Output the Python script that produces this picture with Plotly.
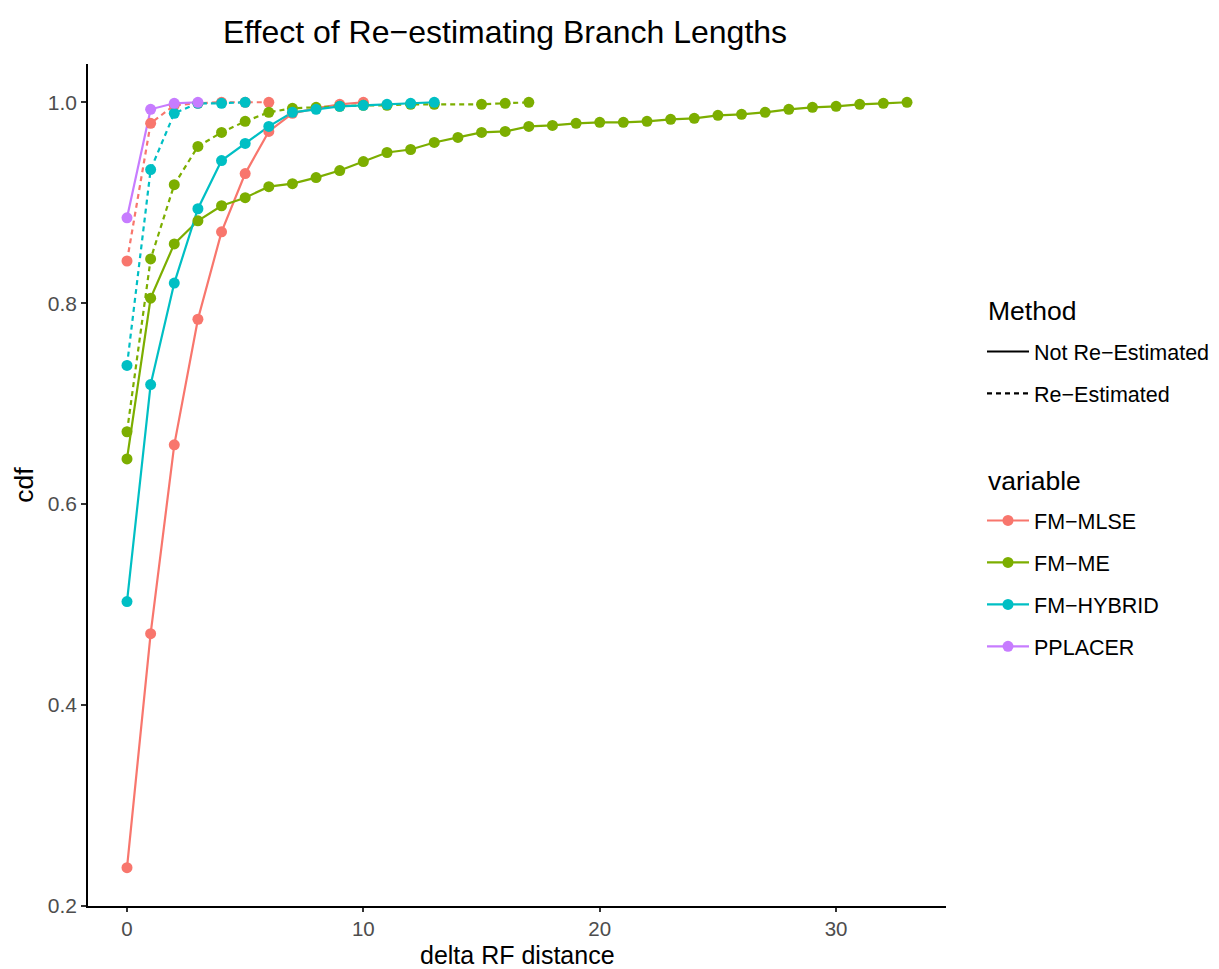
import plotly.graph_objects as go

# ---- data ----
mlse_x = list(range(0, 11))
mlse_y = [0.238, 0.471, 0.659, 0.784, 0.871, 0.929, 0.971, 0.989, 0.994, 0.998, 1.0]
mlse_re_x = list(range(0, 7))
mlse_re_y = [0.842, 0.979, 0.997, 0.999, 1.0, 1.0, 1.0]

me_x = list(range(0, 34))
me_y = [0.645, 0.805, 0.859, 0.882, 0.897, 0.905, 0.916, 0.919, 0.925, 0.932,
        0.941, 0.950, 0.953, 0.960, 0.965, 0.970, 0.971, 0.976, 0.977, 0.979,
        0.980, 0.980, 0.981, 0.983, 0.984, 0.987, 0.988, 0.990, 0.993, 0.995,
        0.996, 0.998, 0.999, 1.0]
me_re_x = [0, 1, 2, 3, 4, 5, 6, 7, 8, 9, 10, 11, 12, 13, 15, 16, 17]
me_re_y = [0.672, 0.844, 0.918, 0.956, 0.970, 0.981, 0.990, 0.994, 0.995, 0.996,
           0.997, 0.997, 0.998, 0.998, 0.998, 0.999, 1.0]

hyb_x = list(range(0, 14))
hyb_y = [0.503, 0.719, 0.820, 0.894, 0.942, 0.959, 0.976, 0.990, 0.993, 0.996,
         0.997, 0.998, 0.999, 1.0]
hyb_re_x = list(range(0, 6))
hyb_re_y = [0.738, 0.933, 0.989, 0.999, 0.999, 1.0]

ppl_x = list(range(0, 4))
ppl_y = [0.885, 0.993, 0.999, 1.0]

variables = ["FM\u2212MLSE", "FM\u2212ME", "FM\u2212HYBRID", "PPLACER"]
methods = ["Not Re\u2212Estimated", "Re\u2212Estimated"]
colors = {"FM\u2212MLSE": "#F8766D", "FM\u2212ME": "#7CAE00",
          "FM\u2212HYBRID": "#00BFC4", "PPLACER": "#C77CFF"}
dashes = {"Not Re\u2212Estimated": "solid", "Re\u2212Estimated": "5px,4px"}

series = [
    ("FM\u2212MLSE", "Not Re\u2212Estimated", mlse_x, mlse_y),
    ("FM\u2212MLSE", "Re\u2212Estimated", mlse_re_x, mlse_re_y),
    ("FM\u2212ME", "Not Re\u2212Estimated", me_x, me_y),
    ("FM\u2212ME", "Re\u2212Estimated", me_re_x, me_re_y),
    ("FM\u2212HYBRID", "Not Re\u2212Estimated", hyb_x, hyb_y),
    ("FM\u2212HYBRID", "Re\u2212Estimated", hyb_re_x, hyb_re_y),
    ("PPLACER", "Not Re\u2212Estimated", ppl_x, ppl_y),
]

FONT = "Liberation Sans, Arial, Helvetica, sans-serif"
fig = go.Figure()

# lines first
for var, meth, xs, ys in series:
    fig.add_trace(go.Scatter(x=xs, y=ys, mode="lines", showlegend=False,
                             line=dict(color=colors[var], width=2.2, dash=dashes[meth]),
                             hoverinfo="skip"))
# then points
for var, meth, xs, ys in series:
    fig.add_trace(go.Scatter(x=xs, y=ys, mode="markers", showlegend=False,
                             marker=dict(color=colors[var], size=11),
                             name=f"{var} {meth}"))

# legend: Method
for i, meth in enumerate(methods):
    fig.add_trace(go.Scatter(x=[None], y=[None], mode="lines", name=meth,
                             line=dict(color="black", width=2.2, dash=dashes[meth]),
                             legend="legend", legendgroup="m%d" % i, showlegend=True))
# legend: variable
for i, var in enumerate(variables):
    fig.add_trace(go.Scatter(x=[None], y=[None], mode="lines+markers", name=var,
                             line=dict(color=colors[var], width=2.2),
                             marker=dict(color=colors[var], size=11),
                             legend="legend2", legendgroup="v%d" % i, showlegend=True))

fig.update_layout(
    width=1219, height=969,
    margin=dict(l=88, r=273, t=64, b=63),
    paper_bgcolor="white", plot_bgcolor="white",
    font=dict(family=FONT, color="black"),
    title=dict(text="Effect of Re\u2212estimating Branch Lengths",
               font=dict(size=32, color="black", family=FONT),
               x=505 / 1219, xref="container", xanchor="center",
               y=1 - 32 / 969, yref="container", yanchor="middle"),
    xaxis=dict(range=[-1.65, 34.65], tickvals=[0, 10, 20, 30], showgrid=False,
               zeroline=False, showline=True, linecolor="black", linewidth=1.6,
               ticks="outside", ticklen=4, tickwidth=1.5, tickcolor="#333333",
               tickfont=dict(size=20.5, color="#4d4d4d"), automargin=False),
    yaxis=dict(range=[0.1999, 1.0381], tickvals=[0.2, 0.4, 0.6, 0.8, 1.0],
               ticktext=["0.2", "0.4", "0.6", "0.8", "1.0"], showgrid=False,
               zeroline=False, showline=True, linecolor="black", linewidth=1.6,
               ticks="outside", ticklen=5, tickwidth=1.5, tickcolor="#333333",
               tickfont=dict(size=21, color="#4d4d4d"), automargin=False,
               title=dict(text="cdf", font=dict(size=26.5, color="black"),
                          standoff=7)),
    legend=dict(font=dict(size=21.5), xref="container", yref="container",
                x=982 / 1219, y=1 - 331 / 969, xanchor="left", yanchor="top",
                tracegroupgap=11, traceorder="grouped", itemwidth=42,
                bgcolor="rgba(0,0,0,0)"),
    legend2=dict(font=dict(size=21.5), xref="container", yref="container",
                 x=982 / 1219, y=1 - 500 / 969, xanchor="left", yanchor="top",
                 tracegroupgap=11, traceorder="grouped", itemwidth=42,
                 bgcolor="rgba(0,0,0,0)"),
    annotations=[
        dict(text="delta RF distance", xref="paper", yref="paper",
             x=0.5, y=(906 - 955.5) / 842, xanchor="center", yanchor="middle",
             showarrow=False, font=dict(size=25, color="black")),
        dict(text="Method", xref="paper", yref="paper",
             x=(986 - 88) / 858, y=(969 - 63 - 311) / 842, xanchor="left",
             yanchor="middle", showarrow=False, font=dict(size=26.5, color="black")),
        dict(text="variable", xref="paper", yref="paper",
             x=(986 - 88) / 858, y=(969 - 63 - 481) / 842, xanchor="left",
             yanchor="middle", showarrow=False, font=dict(size=26.5, color="black")),
    ],
)

fig.write_html("out.html")
